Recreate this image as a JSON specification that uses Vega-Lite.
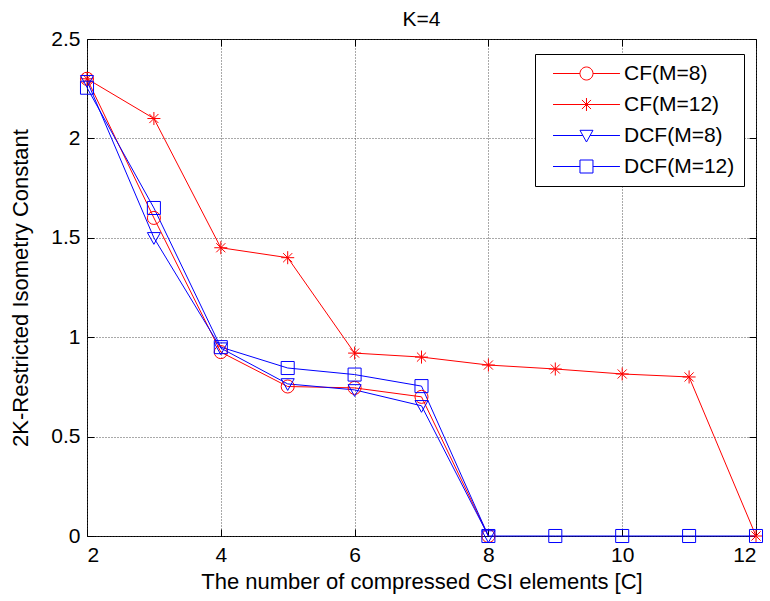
{
  "$schema": "https://vega.github.io/schema/vega-lite/v6.json",
  "width": 669,
  "height": 497,
  "autosize": "none",
  "padding": {"left": 87, "top": 39, "right": 14, "bottom": 65},
  "background": "white",
  "config": {
    "font": "Liberation Sans",
    "view": {"stroke": "black", "strokeWidth": 1},
    "axis": {
      "labelFont": "Liberation Sans",
      "titleFont": "Liberation Sans",
      "labelFontSize": 21,
      "titleFontSize": 22,
      "titleFontWeight": "normal",
      "labelColor": "black",
      "titleColor": "black",
      "tickColor": "black",
      "domain": false,
      "tickSize": -7,
      "gridColor": "#404040",
      "gridDash": [1, 2],
      "gridOpacity": 0.9
    }
  },
  "title": {"text": "K=4", "fontSize": 21, "font": "Liberation Sans", "fontWeight": "normal", "color": "black", "offset": -2},
  "data": {
    "values": [
      {"x": 2, "y": 2.3, "s": "CF(M=8)"},
      {"x": 3, "y": 1.6, "s": "CF(M=8)"},
      {"x": 4, "y": 0.925, "s": "CF(M=8)"},
      {"x": 5, "y": 0.752, "s": "CF(M=8)"},
      {"x": 6, "y": 0.745, "s": "CF(M=8)"},
      {"x": 7, "y": 0.7, "s": "CF(M=8)"},
      {"x": 8, "y": 0, "s": "CF(M=8)"},
      {"x": 2, "y": 2.3, "s": "CF(M=12)"},
      {"x": 3, "y": 2.1, "s": "CF(M=12)"},
      {"x": 4, "y": 1.45, "s": "CF(M=12)"},
      {"x": 5, "y": 1.4, "s": "CF(M=12)"},
      {"x": 6, "y": 0.92, "s": "CF(M=12)"},
      {"x": 7, "y": 0.9, "s": "CF(M=12)"},
      {"x": 8, "y": 0.86, "s": "CF(M=12)"},
      {"x": 9, "y": 0.84, "s": "CF(M=12)"},
      {"x": 10, "y": 0.815, "s": "CF(M=12)"},
      {"x": 11, "y": 0.8, "s": "CF(M=12)"},
      {"x": 12, "y": 0, "s": "CF(M=12)"},
      {"x": 2, "y": 2.29, "s": "DCF(M=8)"},
      {"x": 3, "y": 1.5, "s": "DCF(M=8)"},
      {"x": 4, "y": 0.945, "s": "DCF(M=8)"},
      {"x": 5, "y": 0.765, "s": "DCF(M=8)"},
      {"x": 6, "y": 0.735, "s": "DCF(M=8)"},
      {"x": 7, "y": 0.655, "s": "DCF(M=8)"},
      {"x": 8, "y": 0, "s": "DCF(M=8)"},
      {"x": 2, "y": 2.255, "s": "DCF(M=12)"},
      {"x": 3, "y": 1.65, "s": "DCF(M=12)"},
      {"x": 4, "y": 0.95, "s": "DCF(M=12)"},
      {"x": 5, "y": 0.845, "s": "DCF(M=12)"},
      {"x": 6, "y": 0.812, "s": "DCF(M=12)"},
      {"x": 7, "y": 0.754, "s": "DCF(M=12)"},
      {"x": 8, "y": 0, "s": "DCF(M=12)"},
      {"x": 9, "y": 0, "s": "DCF(M=12)"},
      {"x": 10, "y": 0, "s": "DCF(M=12)"},
      {"x": 11, "y": 0, "s": "DCF(M=12)"},
      {"x": 12, "y": 0, "s": "DCF(M=12)"}
    ]
  },
  "layer": [
    {
      "mark": {"type": "line", "strokeWidth": 1},
      "encoding": {
        "x": {
          "field": "x", "type": "quantitative",
          "scale": {"domain": [2, 12], "nice": false, "zero": false},
          "axis": {"orient": "bottom", "values": [2, 4, 6, 8, 10, 12], "grid": true, "title": "The number of compressed CSI elements [C]", "labelPadding": 15, "titlePadding": 6}
        },
        "y": {
          "field": "y", "type": "quantitative",
          "scale": {"domain": [0, 2.5], "nice": false},
          "axis": {"orient": "left", "values": [0, 0.5, 1, 1.5, 2, 2.5], "format": "~g", "grid": true, "title": "2K-Restricted Isometry Constant", "labelPadding": 14, "titlePadding": 18}
        },
        "color": {
          "field": "s", "type": "nominal",
          "scale": {"domain": ["CF(M=8)", "CF(M=12)", "DCF(M=8)", "DCF(M=12)"], "range": ["#ff0000", "#ff0000", "#0000ff", "#0000ff"]},
          "legend": null
        },
        "detail": {"field": "s"}
      }
    },
    {
      "mark": {"type": "point", "filled": false, "strokeWidth": 1, "size": 170, "opacity": 1},
      "encoding": {
        "x": {"field": "x", "type": "quantitative", "axis": {"orient": "top", "values": [2, 4, 6, 8, 10, 12], "labels": false, "grid": false, "title": null}},
        "y": {"field": "y", "type": "quantitative", "axis": {"orient": "right", "values": [0, 0.5, 1, 1.5, 2, 2.5], "labels": false, "grid": false, "title": null}},
        "color": {
          "field": "s", "type": "nominal",
          "scale": {"domain": ["CF(M=8)", "CF(M=12)", "DCF(M=8)", "DCF(M=12)"], "range": ["#ff0000", "#ff0000", "#0000ff", "#0000ff"]},
          "legend": null
        },
        "shape": {
          "field": "s", "type": "nominal",
          "scale": {"domain": ["CF(M=8)", "CF(M=12)", "DCF(M=8)", "DCF(M=12)"], "range": ["circle", "M-1,0L1,0M0,-1L0,1M-0.7,-0.7L0.7,0.7M-0.7,0.7L0.7,-0.7", "M-1,-0.8L1,-0.8L0,1Z", "square"]},
          "legend": null
        }
      }
    },
    {
      "mark": {"type": "point", "filled": false, "strokeWidth": 1, "size": 169, "opacity": 0},
      "encoding": {
        "x": {"field": "x", "type": "quantitative", "axis": null},
        "y": {"field": "y", "type": "quantitative", "axis": null},
        "color": {
          "field": "s", "type": "nominal",
          "scale": {"domain": ["CF(M=8)", "CF(M=12)", "DCF(M=8)", "DCF(M=12)"], "range": ["#ff0000", "#ff0000", "#0000ff", "#0000ff"]},
          "legend": {
            "title": null,
            "orient": "none",
            "legendX": 448,
            "legendY": 15,
            "padding": 9,
            "strokeColor": "black",
            "fillColor": "white",
            "symbolSize": 169,
            "symbolStrokeWidth": 1,
            "labelFont": "Liberation Sans",
            "labelFontSize": 21,
            "labelColor": "black",
            "labelOffset": 59,
            "labelLimit": 0,
            "rowPadding": 9,
            "symbolOpacity": 1,
            "encode": {"symbols": {"update": {"opacity": {"value": 1}}}}
          }
        },
        "shape": {
          "field": "s", "type": "nominal",
          "scale": {"domain": ["CF(M=8)", "CF(M=12)", "DCF(M=8)", "DCF(M=12)"], "range": [
            "M-0.23,0L3.92,0M5.92,0L10.07,0M5.92,0A1,1,0,1,0,3.92,0A1,1,0,1,0,5.92,0",
            "M-0.23,0L10.07,0M4.92,-1L4.92,1M4.22,-0.7L5.62,0.7M4.22,0.7L5.62,-0.7",
            "M-0.23,0L4.36,0M5.48,0L10.07,0M3.92,-0.8L5.92,-0.8L4.92,1Z",
            "M-0.23,0L3.92,0M5.92,0L10.07,0M3.92,-1L5.92,-1L5.92,1L3.92,1Z"
          ]},
          "legend": {
            "title": null,
            "orient": "none",
            "legendX": 448,
            "legendY": 15,
            "padding": 9,
            "strokeColor": "black",
            "fillColor": "white",
            "symbolSize": 169,
            "symbolStrokeWidth": 1,
            "labelFont": "Liberation Sans",
            "labelFontSize": 21,
            "labelColor": "black",
            "labelOffset": 59,
            "labelLimit": 0,
            "rowPadding": 9,
            "symbolOpacity": 1,
            "encode": {"symbols": {"update": {"opacity": {"value": 1}}}}
          }
        }
      }
    }
  ],
  "resolve": {
    "scale": {"shape": "independent", "color": "independent"},
    "axis": {"x": "independent", "y": "independent"},
    "legend": {"shape": "independent", "color": "independent"}
  }
}
